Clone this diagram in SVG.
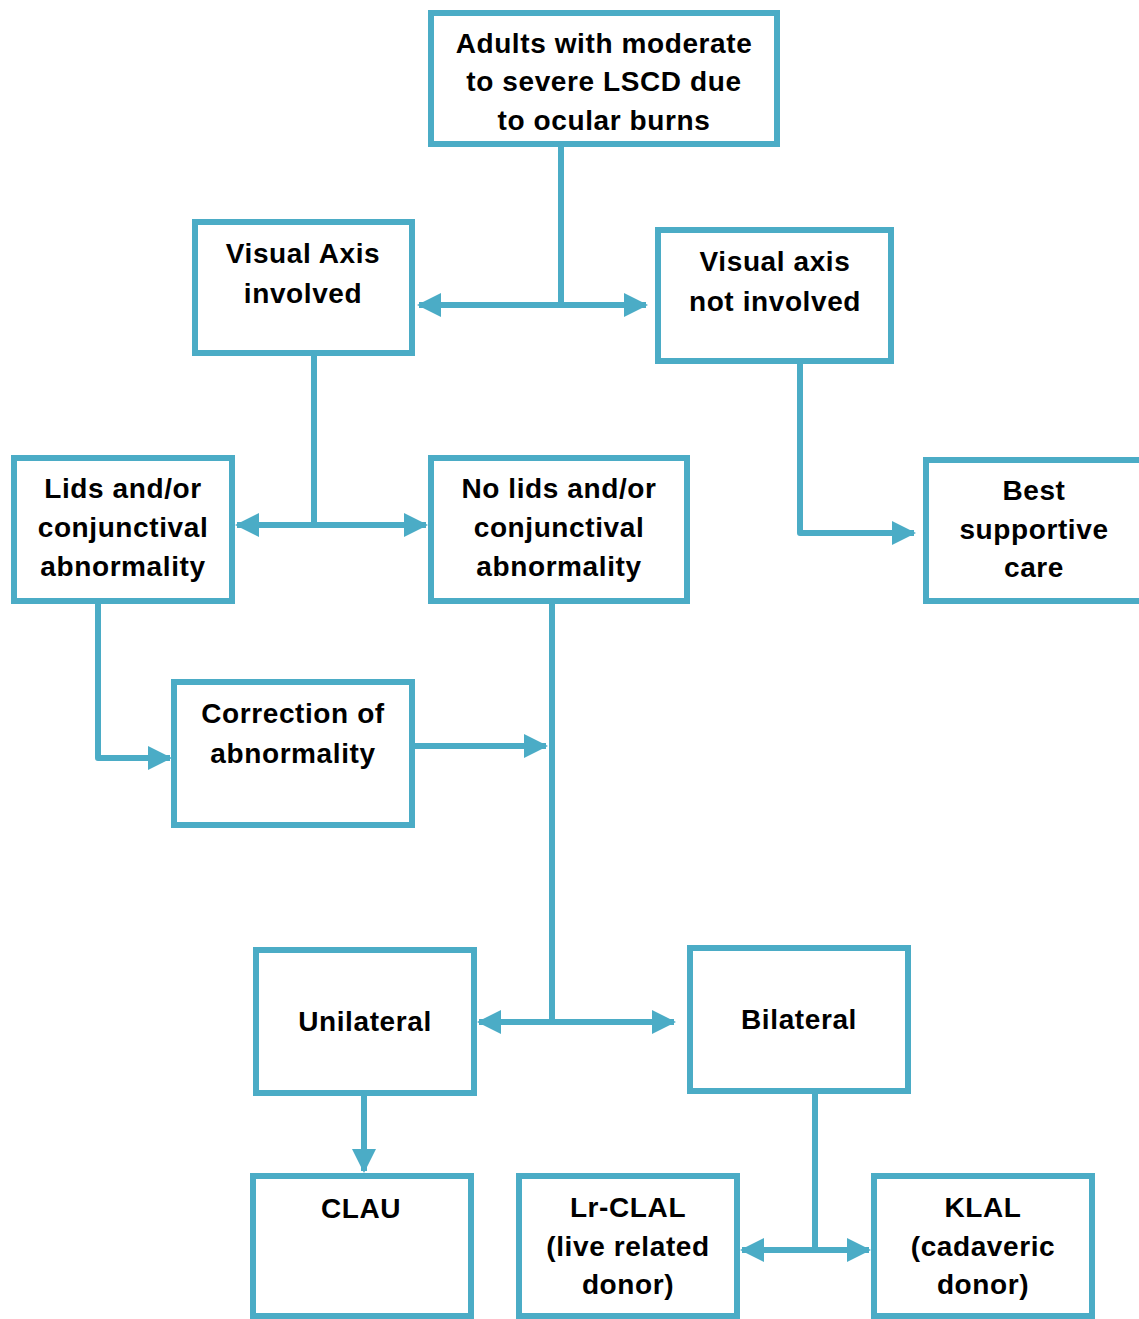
<svg xmlns="http://www.w3.org/2000/svg" width="1139" height="1319" viewBox="0 0 1139 1319">
  <style>
    .box { fill: #ffffff; stroke: #4bacc6; stroke-width: 6; }
    .link { fill: none; stroke: #4bacc6; stroke-width: 6; stroke-linejoin: round; }
    .label { font-family: "Liberation Sans", Arial, sans-serif; font-weight: bold; font-size: 28px; letter-spacing: 0.6px; fill: #000000; text-anchor: middle; }
  </style>
  <defs>
    <marker id="arrow" viewBox="0 0 24 24" refX="22" refY="12" markerWidth="24" markerHeight="24" markerUnits="userSpaceOnUse" orient="auto-start-reverse">
      <path d="M0,0 L24,12 L0,24 Z" fill="#4bacc6"/>
    </marker>
  </defs>
  <rect width="1139" height="1319" fill="#ffffff"/>

  <g id="connectors">
    <path class="link" d="M561,147 V305"/>
    <path class="link" d="M419,305 H646" marker-start="url(#arrow)" marker-end="url(#arrow)"/>
    <path class="link" d="M314,356 V525"/>
    <path class="link" d="M237,525 H426" marker-start="url(#arrow)" marker-end="url(#arrow)"/>
    <path class="link" d="M800,364 V533 H914" marker-end="url(#arrow)"/>
    <path class="link" d="M98,604 V758 H170" marker-end="url(#arrow)"/>
    <path class="link" d="M415,746 H546" marker-end="url(#arrow)"/>
    <path class="link" d="M552,604 V1022"/>
    <path class="link" d="M479,1022 H674" marker-start="url(#arrow)" marker-end="url(#arrow)"/>
    <path class="link" d="M364,1096 V1171" marker-end="url(#arrow)"/>
    <path class="link" d="M815,1094 V1250"/>
    <path class="link" d="M742,1250 H869" marker-start="url(#arrow)" marker-end="url(#arrow)"/>
  </g>

  <g id="node-adults">
    <rect class="box" x="431" y="13" width="346" height="131"/>
    <text class="label" x="604" y="53">Adults with moderate</text>
    <text class="label" x="604" y="91">to severe LSCD due</text>
    <text class="label" x="604" y="130">to ocular burns</text>
  </g>

  <g id="node-axis-involved">
    <rect class="box" x="195" y="222" width="217" height="131"/>
    <text class="label" x="303" y="263">Visual Axis</text>
    <text class="label" x="303" y="303">involved</text>
  </g>

  <g id="node-axis-not-involved">
    <rect class="box" x="658" y="230" width="233" height="131"/>
    <text class="label" x="775" y="271">Visual axis</text>
    <text class="label" x="775" y="311">not involved</text>
  </g>

  <g id="node-lids">
    <rect class="box" x="14" y="458" width="218" height="143"/>
    <text class="label" x="123" y="498">Lids and/or</text>
    <text class="label" x="123" y="537">conjunctival</text>
    <text class="label" x="123" y="576">abnormality</text>
  </g>

  <g id="node-no-lids">
    <rect class="box" x="431" y="458" width="256" height="143"/>
    <text class="label" x="559" y="498">No lids and/or</text>
    <text class="label" x="559" y="537">conjunctival</text>
    <text class="label" x="559" y="576">abnormality</text>
  </g>

  <g id="node-supportive">
    <rect class="box" x="926" y="460" width="220" height="141"/>
    <text class="label" x="1034" y="500">Best</text>
    <text class="label" x="1034" y="539">supportive</text>
    <text class="label" x="1034" y="577">care</text>
  </g>

  <g id="node-correction">
    <rect class="box" x="174" y="682" width="238" height="143"/>
    <text class="label" x="293" y="723">Correction of</text>
    <text class="label" x="293" y="763">abnormality</text>
  </g>

  <g id="node-unilateral">
    <rect class="box" x="256" y="950" width="218" height="143"/>
    <text class="label" x="365" y="1031">Unilateral</text>
  </g>

  <g id="node-bilateral">
    <rect class="box" x="690" y="948" width="218" height="143"/>
    <text class="label" x="799" y="1029">Bilateral</text>
  </g>

  <g id="node-clau">
    <rect class="box" x="253" y="1176" width="218" height="140"/>
    <text class="label" x="361" y="1218">CLAU</text>
  </g>

  <g id="node-lr-clal">
    <rect class="box" x="519" y="1176" width="218" height="140"/>
    <text class="label" x="628" y="1217">Lr-CLAL</text>
    <text class="label" x="628" y="1256">(live related</text>
    <text class="label" x="628" y="1294">donor)</text>
  </g>

  <g id="node-klal">
    <rect class="box" x="874" y="1176" width="218" height="140"/>
    <text class="label" x="983" y="1217">KLAL</text>
    <text class="label" x="983" y="1256">(cadaveric</text>
    <text class="label" x="983" y="1294">donor)</text>
  </g>
</svg>
